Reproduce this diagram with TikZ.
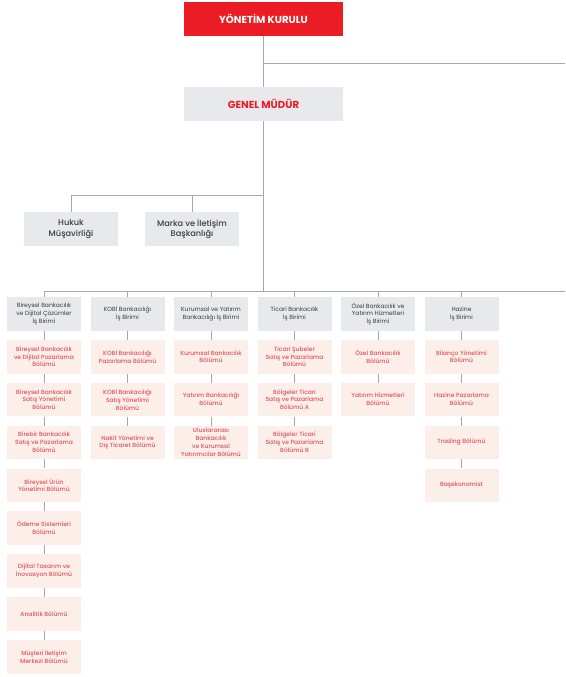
\documentclass[tikz,border=0pt]{standalone}
\usepackage{fontspec}
\setmainfont{Poppins}
\newfontface\pmed{Poppins Medium}
\definecolor{ykred}{HTML}{EC1C24}
\definecolor{boxgray}{HTML}{E8E9EC}
\definecolor{boxpink}{HTML}{FCEFEA}
\definecolor{pinktext}{HTML}{E2505A}
\definecolor{darktext}{HTML}{3A3A3A}
\definecolor{linegray}{HTML}{A8A8A8}
\begin{document}
\begin{tikzpicture}[x=1pt,y=-1pt,
  conn/.style={draw=linegray,line width=0.8pt},
  topbox/.style={fill=ykred,text=white,minimum width=159pt,minimum height=34pt,inner sep=0pt,font=\fontsize{10.2}{12}\selectfont\bfseries},
  gmbox/.style={fill=boxgray,text=ykred,minimum width=159pt,minimum height=34pt,inner sep=0pt,font=\fontsize{10.2}{12}\selectfont\bfseries},
  staffbox/.style={fill=boxgray,text=darktext,minimum width=94pt,minimum height=34pt,inner sep=0pt,align=center,font=\fontsize{8.2}{10.2}\pmed},
  headbox/.style={fill=boxgray,text=darktext,minimum width=74pt,minimum height=34pt,inner sep=0pt,align=center,font=\fontsize{6}{7.8}\selectfont},
  childbox/.style={fill=boxpink,text=pinktext,minimum width=74pt,minimum height=33.5pt,inner sep=0pt,align=center,font=\fontsize{6}{7.8}\pmed}
]
\useasboundingbox (0,0) rectangle (565,677);

\node[topbox] (yk) at (263.5,19) {YÖNETİM KURULU};
\node[gmbox] (gm) at (263.5,104) {GENEL MÜDÜR};
\coordinate (rend) at (565,63);
\coordinate (bus) at (0,291);
\coordinate (sbus) at (0,195);

\draw[conn] (yk.south) -- (gm.north);
\draw[conn] (yk.south |- rend) -- (rend);

\node[staffbox] (hukuk) at (71,229) {Hukuk\\Müşavirliği};
\node[staffbox] (marka) at (192,229) {Marka ve İletişim\\Başkanlığı};

\draw[conn] (gm.south) -- (gm.south |- bus);
\draw[conn] (hukuk.north) -- (hukuk.north |- sbus) -- (gm.south |- sbus);
\draw[conn] (marka.north) -- (marka.north |- sbus);

% headers
\foreach \i/\x/\t in {1/44/{Bireysel Bankacılık\\ve Dijital Çözümler\\İş Birimi},
                     2/127.5/{KOBİ Bankacılığı\\İş Birimi},
                     3/211/{Kurumsal ve Yatırım\\Bankacılığı İş Birimi},
                     4/294.5/{Ticari Bankacılık\\İş Birimi},
                     5/378/{Özel Bankacılık ve\\Yatırım Hizmetleri\\İş Birimi},
                     6/461.5/{Hazine\\İş Birimi}}{
  \node[headbox] (h\i) at (\x,314) {\t};
  \draw[conn] (h\i.north) -- (h\i.north |- bus);
}
\coordinate (busend) at (565,291);
\draw[conn] (h1.north |- bus) -- (busend);

% column 1
\foreach \j/\t in {1/{Bireysel Bankacılık\\ve Dijital Pazarlama\\Bölümü},
                  2/{Bireysel Bankacılık\\Satış Yönetimi\\Bölümü},
                  3/{Birebir Bankacılık\\Satış ve Pazarlama\\Bölümü},
                  4/{Bireysel Ürün\\Yönetimi Bölümü},
                  5/{Ödeme Sistemleri\\Bölümü},
                  6/{Dijital Tasarım ve\\İnovasyon Bölümü},
                  7/{Analitik Bölümü},
                  8/{Müşteri İletişim\\Merkezi Bölümü}}{
  \node[childbox] (a\j) at (44,{356.75+(\j-1)*42.86}) {\t};
}
\draw[conn] (h1) -- (a1);
\foreach \p/\q in {1/2,2/3,3/4,4/5,5/6,6/7,7/8}{\draw[conn] (a\p) -- (a\q);}

% column 2
\foreach \j/\t in {1/{KOBİ Bankacılığı\\Pazarlama Bölümü},
                  2/{KOBİ Bankacılığı\\Satış Yönetimi\\Bölümü},
                  3/{Nakit Yönetimi ve\\Dış Ticaret Bölümü}}{
  \node[childbox] (b\j) at (127.5,{356.75+(\j-1)*42.86}) {\t};
}
\draw[conn] (h2) -- (b1);
\foreach \p/\q in {1/2,2/3}{\draw[conn] (b\p) -- (b\q);}

% column 3
\foreach \j/\t in {1/{Kurumsal Bankacılık\\Bölümü},
                  2/{Yatırım Bankacılığı\\Bölümü},
                  3/{Uluslararası\\Bankacılık\\ve Kurumsal\\Yatırımcılar Bölümü}}{
  \node[childbox] (c\j) at (211,{356.75+(\j-1)*42.86}) {\t};
}
\draw[conn] (h3) -- (c1);
\foreach \p/\q in {1/2,2/3}{\draw[conn] (c\p) -- (c\q);}

% column 4
\foreach \j/\t in {1/{Ticari Şubeler\\Satış ve Pazarlama\\Bölümü},
                  2/{Bölgeler Ticari\\Satış ve Pazarlama\\Bölümü A},
                  3/{Bölgeler Ticari\\Satış ve Pazarlama\\Bölümü B}}{
  \node[childbox] (d\j) at (294.5,{356.75+(\j-1)*42.86}) {\t};
}
\draw[conn] (h4) -- (d1);
\foreach \p/\q in {1/2,2/3}{\draw[conn] (d\p) -- (d\q);}

% column 5
\foreach \j/\t in {1/{Özel Bankacılık\\Bölümü},
                  2/{Yatırım Hizmetleri\\Bölümü}}{
  \node[childbox] (e\j) at (378,{356.75+(\j-1)*42.86}) {\t};
}
\draw[conn] (h5) -- (e1);
\draw[conn] (e1) -- (e2);

% column 6
\foreach \j/\t in {1/{Bilanço Yönetimi\\Bölümü},
                  2/{Hazine Pazarlama\\Bölümü},
                  3/{Trading Bölümü},
                  4/{Başekonomist}}{
  \node[childbox] (f\j) at (461.5,{356.75+(\j-1)*42.86}) {\t};
}
\draw[conn] (h6) -- (f1);
\foreach \p/\q in {1/2,2/3,3/4}{\draw[conn] (f\p) -- (f\q);}
\end{tikzpicture}
\end{document}
